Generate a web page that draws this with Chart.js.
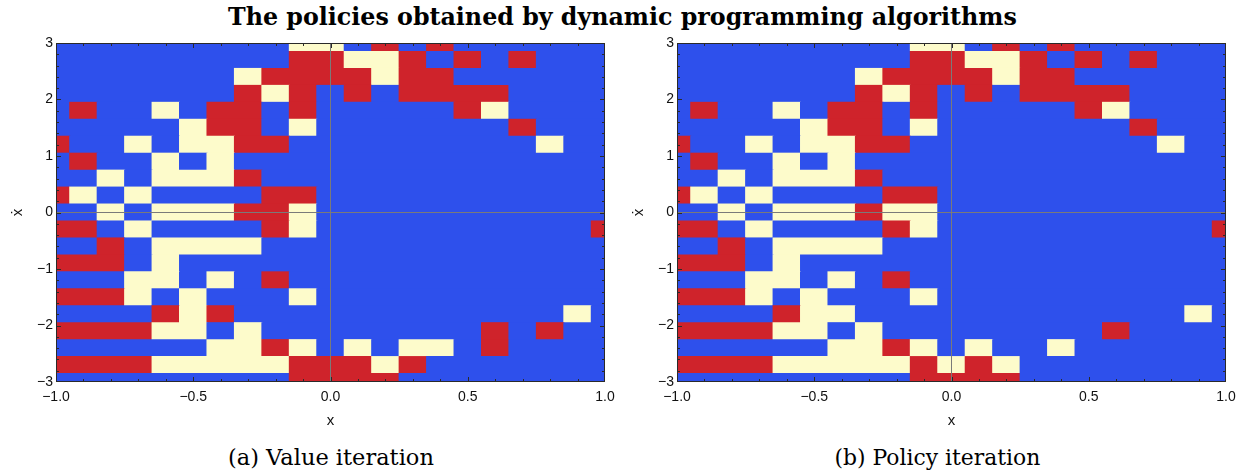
<!DOCTYPE html>
<html>
<head>
<meta charset="utf-8">
<script src="https://cdn.jsdelivr.net/npm/chart.js@4.4.1/dist/chart.umd.min.js"></script>
<style>
  html, body { margin: 0; padding: 0; background: #fff; }
  #page { position: relative; width: 1244px; height: 472px; overflow: hidden; }
  .panel { position: absolute; top: 0; width: 622px; height: 440px; }
  #left { left: 0; }
  #right { left: 621px; }
  .txt { position: absolute; white-space: nowrap; color: #000; line-height: 1; }
  #title { font-family: "DejaVu Serif"; font-weight: bold; }
  .caption { font-family: "DejaVu Serif"; }
</style>
</head>
<body>
<div id="page">
  <div id="title" class="txt">The policies obtained by dynamic programming algorithms</div>
  <div class="panel" id="left"><canvas id="valueChart" width="622" height="440"></canvas></div>
  <div class="panel" id="right"><canvas id="policyChart" width="622" height="440"></canvas></div>
  <div id="capA" class="txt caption">(a) Value iteration</div>
  <div id="capB" class="txt caption">(b) Policy iteration</div>
</div>
<script>
// State grid: cart position x (columns) and velocity ẋ (rows, top row first)
const xCenters = [-1.0, -0.9, -0.8, -0.7, -0.6, -0.5, -0.4, -0.3, -0.2, -0.1, 0.0,
                  0.1, 0.2, 0.3, 0.4, 0.5, 0.6, 0.7, 0.8, 0.9, 1.0];
const yCenters = [3.0, 2.7, 2.4, 2.1, 1.8, 1.5, 1.2, 0.9, 0.6, 0.3, 0.0,
                  -0.3, -0.6, -0.9, -1.2, -1.5, -1.8, -2.1, -2.4, -2.7, -3.0];

// Axis ticks
const xTickValues = [-1, -0.5, 0, 0.5, 1];
const xTickLabels = ['\u22121.0', '\u22120.5', '0.0', '0.5', '1.0'];
const yTickValues = [-3, -2, -1, 0, 1, 2, 3];
const yTickLabels = ['\u22123', '\u22122', '\u22121', '0', '1', '2', '3'];

// Greedy action per state: R, B, Y (one character per column, one string per row)
const valueIterationPolicy = [
  "BBBBBBBBBYYBRBRBBBBBB",
  "BBBBBBBBBRRYYRBRBRBBB",
  "BBBBBBBYRRRRYRRBBBBBB",
  "BBBBBBBRYRBRBRRRRBBBB",
  "BRBBYBRRBRBBBBBRYBBBB",
  "BBBBBYRRBYBBBBBBBRBBB",
  "RBBYBYYRRBBBBBBBBBYBB",
  "BRBBYBYBBBBBBBBBBBBBB",
  "BBYBYYYRBBBBBBBBBBBBB",
  "RYBYBBBBRRBBBBBBBBBBB",
  "BBYBYYYRRYBBBBBBBBBBB",
  "RRBYBBBBRYBBBBBBBBBBR",
  "BBRBYYYYBBBBBBBBBBBBB",
  "RRRBYBBBBBBBBBBBBBBBB",
  "BBBYYBYBRBBBBBBBBBBBB",
  "RRRYBYBBBYBBBBBBBBBBB",
  "BBBBRYRBBBBBBBBBBBBYB",
  "RRRRYYBYBBBBBBBBRBRBB",
  "BBBBBBYYRYBYBYYBRBBBB",
  "RRRRYYYYYRRRYRBBBBBBB",
  "BBBBBBBBBRRRRBBBBBBBB"
];

const policyIterationPolicy = [
  "BBBBBBBBBYYBRBRBBBBBB",
  "BBBBBBBBBRRYYRBRBRBBB",
  "BBBBBBBYRRRRYRRBBBBBB",
  "BBBBBBBRYRBRBRRRRBBBB",
  "BRBBYBRRBRBBBBBRYBBBB",
  "BBBBBYRRBYBBBBBBBRBBB",
  "RBBYBYYRRBBBBBBBBBYBB",
  "BRBBYBYBBBBBBBBBBBBBB",
  "BBYBYYYRBBBBBBBBBBBBB",
  "RYBYBBBBRRBBBBBBBBBBB",
  "BBYBYYYRYYBBBBBBBBBBB",
  "RRBYBBBBRYBBBBBBBBBBR",
  "BBRBYYYYBBBBBBBBBBBBB",
  "RRRBYBBBBBBBBBBBBBBBB",
  "BBBYYBYBRBBBBBBBBBBBB",
  "RRRYBYBBBYBBBBBBBBBBB",
  "BBBBRYYBBBBBBBBBBBBYB",
  "RRRRYYBYBBBBBBBBRBBBB",
  "BBBBBBYYRYBYBBYBBBBBB",
  "RRRRYYYYYRYRYBBBBBBBB",
  "BBBBBBBBBRRRRBBBBBBBB"
];

const palette = { R: '#CF232B', B: '#2E50EC', Y: '#FDFBCB' };
const tickFont = { family: '"Liberation Sans", "DejaVu Sans", sans-serif', size: 14 };

// Frame with inward major/minor ticks on all four sides
const frameTicks = {
  id: 'frameTicks',
  afterDraw(chart) {
    const { ctx, chartArea: a, scales: { x, y } } = chart;
    ctx.save();
    ctx.strokeStyle = '#2a2a2a';
    ctx.lineWidth = 1;
    ctx.beginPath();
    for (let i = 1; i < 20; i++) {
      const v = x.min + i * (x.max - x.min) / 20;
      const px = Math.round(x.getPixelForValue(v)) + 0.5;
      const len = i % 5 === 0 ? 5 : 3;
      ctx.moveTo(px, a.bottom); ctx.lineTo(px, a.bottom - len);
      ctx.moveTo(px, a.top); ctx.lineTo(px, a.top + len);
    }
    for (let i = 1; i < 30; i++) {
      const v = y.min + i * (y.max - y.min) / 30;
      const py = Math.round(y.getPixelForValue(v)) + 0.5;
      const len = i % 5 === 0 ? 5 : 3;
      ctx.moveTo(a.left, py); ctx.lineTo(a.left + len, py);
      ctx.moveTo(a.right, py); ctx.lineTo(a.right - len, py);
    }
    ctx.stroke();
    ctx.strokeRect(a.left + 0.5, a.top + 0.5, a.right - a.left - 1, a.bottom - a.top - 1);
    ctx.restore();
  }
};

function policyRuns(rows) {
  const half = (xCenters[1] - xCenters[0]) / 2;
  const runs = [];
  rows.forEach((row, r) => {
    let start = 0;
    for (let c = 1; c <= row.length; c++) {
      if (c === row.length || row[c] !== row[start]) {
        runs.push({ x: [xCenters[start] - half, xCenters[c - 1] + half], y: yCenters[r], action: row[start] });
        start = c;
      }
    }
  });
  return runs;
}

const zeroLine = ctx => (ctx.tick && ctx.tick.value === 0) ? '#7a7a7a' : 'rgba(0,0,0,0)';

function makeChart(canvasId, rows) {
  return new Chart(document.getElementById(canvasId), {
    type: 'bar',
    data: {
      datasets: [{
        data: policyRuns(rows),
        backgroundColor: ctx => palette[(ctx.raw && ctx.raw.action) || 'B'],
        borderWidth: 0,
        barPercentage: 1,
        categoryPercentage: 1,
        inflateAmount: 0.5,
        clip: 0
      }]
    },
    options: {
      responsive: false,
      animation: false,
      devicePixelRatio: 1,
      indexAxis: 'y',
      layout: { padding: { top: 43, right: 17, left: 0, bottom: 0 } },
      plugins: { legend: { display: false }, tooltip: { enabled: false } },
      scales: {
        x: {
          type: 'linear', position: 'bottom', min: -1, max: 1, offset: false,
          afterBuildTicks: s => { s.ticks = xTickValues.map(v => ({ value: v })); },
          afterFit: s => { s.height = 58; },
          ticks: {
            callback: v => xTickLabels[xTickValues.indexOf(v)],
            font: tickFont, color: '#111', padding: 7, maxRotation: 0, autoSkip: false
          },
          grid: { offset: false, drawTicks: false, color: zeroLine, lineWidth: 1, z: 1 },
          border: { display: false },
          title: { display: true, text: 'x', font: { family: tickFont.family, size: 15 }, color: '#111',
                   padding: { top: 0, bottom: 10 } }
        },
        y: {
          type: 'linear', position: 'left', min: -3, max: 3, offset: false,
          afterBuildTicks: s => { s.ticks = yTickValues.map(v => ({ value: v })); },
          afterFit: s => { s.width = 56; },
          ticks: {
            callback: v => yTickLabels[yTickValues.indexOf(v)],
            font: tickFont, color: '#111', padding: 3, autoSkip: false
          },
          grid: { offset: false, drawTicks: false, color: zeroLine, lineWidth: 1, z: 1 },
          border: { display: false },
          title: { display: true, text: '\u1E8B', font: { family: tickFont.family, size: 15 }, color: '#111',
                   padding: { top: 9, bottom: 0 } }
        }
      }
    },
    plugins: [frameTicks]
  });
}

makeChart('valueChart', valueIterationPolicy);
makeChart('policyChart', policyIterationPolicy);

// Title and captions, sized to their set widths
function placeText(id, weight, targetWidth, centerX, baselineY) {
  const el = document.getElementById(id);
  const m = document.createElement('canvas').getContext('2d');
  m.font = weight + ' 100px "DejaVu Serif"';
  const size = 100 * targetWidth / m.measureText(el.textContent).width;
  el.style.fontSize = size.toFixed(2) + 'px';
  el.style.left = (centerX - targetWidth / 2) + 'px';
  el.style.top = (baselineY - 0.845 * size) + 'px';
}
placeText('title', 'bold', 789, 622.5, 26);
placeText('capA', 'normal', 206, 331, 465);
placeText('capB', 'normal', 206, 937.5, 465);
</script>
</body>
</html>
